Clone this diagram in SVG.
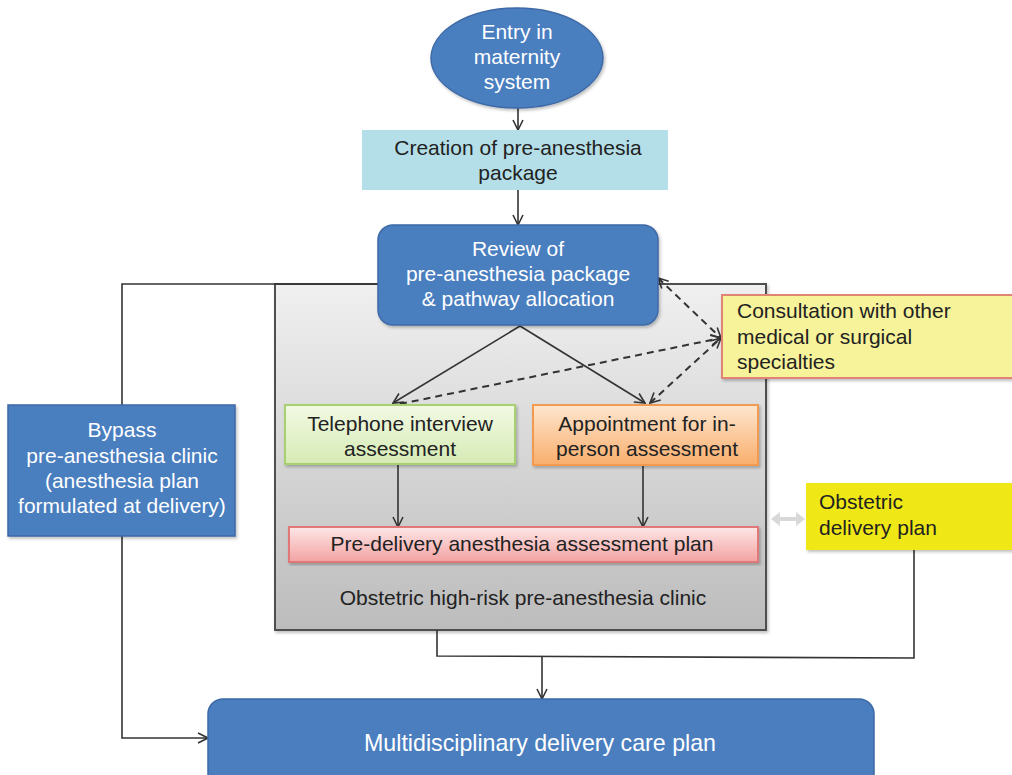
<svg xmlns="http://www.w3.org/2000/svg" width="1012" height="775" viewBox="0 0 1012 775">
<defs>
<style>
text{font-family:"Liberation Sans",Arial,sans-serif;font-size:21px;fill:#222}
.w{fill:#fff}
.c{text-anchor:middle}
.blue{fill:#4a7ebf;stroke:#3d6aa6;stroke-width:1.5}
.ln{fill:none;stroke:#333;stroke-width:1.6}
.dash{fill:none;stroke:#333;stroke-width:2;stroke-dasharray:7 5}
</style>
<marker id="ah" viewBox="0 0 12 12" refX="11" refY="6" markerWidth="12" markerHeight="12" markerUnits="userSpaceOnUse" orient="auto-start-reverse">
<path d="M1,1 L11,6 L1,11" fill="none" stroke="#333" stroke-width="1.6"/>
</marker>
<linearGradient id="gGray" x1="0" y1="0" x2="0" y2="1"><stop offset="0" stop-color="#f0f0f0"/><stop offset="1" stop-color="#bcbcbc"/></linearGradient>
<linearGradient id="gGreen" x1="0" y1="0" x2="0" y2="1"><stop offset="0" stop-color="#f2f9e4"/><stop offset="1" stop-color="#d6ebb4"/></linearGradient>
<linearGradient id="gOrange" x1="0" y1="0" x2="0" y2="1"><stop offset="0" stop-color="#fde6cf"/><stop offset="1" stop-color="#f9ae6c"/></linearGradient>
<linearGradient id="gPink" x1="0" y1="0" x2="0" y2="1"><stop offset="0" stop-color="#fde6e6"/><stop offset="1" stop-color="#f3a2a2"/></linearGradient>
<filter id="sh" x="-5%" y="-5%" width="110%" height="115%"><feDropShadow dx="1.5" dy="2" stdDeviation="1.5" flood-color="#000" flood-opacity="0.25"/></filter>
</defs>
<rect width="1012" height="775" fill="#fff"/>

<g id="clinic">
<rect x="275" y="284" width="491" height="346" fill="url(#gGray)" stroke="#505050" stroke-width="2" filter="url(#sh)"/>
<text class="c" x="523" y="605">Obstetric high-risk pre-anesthesia clinic</text>
</g>

<g id="connectors">
<line class="ln" x1="518" y1="108" x2="518" y2="130" marker-end="url(#ah)"/>
<line class="ln" x1="518" y1="190" x2="518" y2="225" marker-end="url(#ah)"/>
<polyline class="ln" points="378,284 122,284 122,405"/>
<polyline class="ln" points="122,536 122,738 208,738" marker-end="url(#ah)"/>
<line class="ln" x1="520" y1="326" x2="393" y2="403" marker-end="url(#ah)"/>
<line class="ln" x1="520" y1="326" x2="645" y2="403" marker-end="url(#ah)"/>
<line class="dash" x1="658" y1="278" x2="721" y2="338" marker-start="url(#ah)" marker-end="url(#ah)"/>
<line class="dash" x1="400" y1="404" x2="721" y2="338" marker-end="url(#ah)"/>
<line class="dash" x1="650" y1="403" x2="721" y2="338" marker-start="url(#ah)" marker-end="url(#ah)"/>
<line class="ln" x1="398" y1="464" x2="398" y2="527" marker-end="url(#ah)"/>
<line class="ln" x1="643" y1="465" x2="643" y2="527" marker-end="url(#ah)"/>
<polyline class="ln" points="437,630 437,656 914,658 914,550"/>
<line class="ln" x1="542" y1="657" x2="542" y2="699" marker-end="url(#ah)"/>
<polygon points="771,519 780,512 780,517 796,517 796,512 805,519 796,526 796,521 780,521 780,526" fill="#d8d8d8"/>
</g>

<g id="entry">
<ellipse class="blue" cx="517" cy="58" rx="86" ry="50" filter="url(#sh)"/>
<text class="c w" x="517" y="39">Entry in</text>
<text class="c w" x="517" y="64">maternity</text>
<text class="c w" x="517" y="89">system</text>
</g>

<g id="creation">
<rect x="362" y="130" width="306" height="60" fill="#b4dfe8"/>
<text class="c" x="518" y="155">Creation of pre-anesthesia</text>
<text class="c" x="518" y="180">package</text>
</g>

<g id="review">
<rect class="blue" x="378" y="225" width="280" height="100" rx="15" filter="url(#sh)"/>
<text class="c w" x="518" y="256">Review of</text>
<text class="c w" x="518" y="281">pre-anesthesia package</text>
<text class="c w" x="518" y="306">&amp; pathway allocation</text>
</g>

<g id="consultation">
<rect x="722" y="295" width="300" height="83" fill="#f7f39a" stroke="#e08474" stroke-width="2" filter="url(#sh)"/>
<text x="737" y="318">Consultation with other</text>
<text x="737" y="344">medical or surgical</text>
<text x="737" y="369">specialties</text>
</g>

<g id="telephone">
<rect x="285" y="405" width="230" height="59" fill="url(#gGreen)" stroke="#a8d070" stroke-width="2" filter="url(#sh)"/>
<text class="c" x="400" y="431">Telephone interview</text>
<text class="c" x="400" y="456">assessment</text>
</g>

<g id="appointment">
<rect x="533" y="405" width="225" height="60" fill="url(#gOrange)" stroke="#f29a50" stroke-width="2" filter="url(#sh)"/>
<text class="c" x="647" y="431">Appointment for in-</text>
<text class="c" x="647" y="456">person assessment</text>
</g>

<g id="predelivery">
<rect x="289" y="527" width="469" height="35" fill="url(#gPink)" stroke="#e07878" stroke-width="2" filter="url(#sh)"/>
<text class="c" x="522" y="551">Pre-delivery anesthesia assessment plan</text>
</g>

<g id="bypass">
<rect class="blue" x="8" y="405" width="227" height="131" filter="url(#sh)"/>
<text class="c w" x="122" y="437">Bypass</text>
<text class="c w" x="122" y="463">pre-anesthesia clinic</text>
<text class="c w" x="122" y="488">(anesthesia plan</text>
<text class="c w" x="122" y="513">formulated at delivery)</text>
</g>

<g id="obstetric">
<rect x="806" y="483" width="215" height="67" fill="#f0e818" filter="url(#sh)"/>
<text x="819" y="509">Obstetric</text>
<text x="819" y="535">delivery plan</text>
</g>

<g id="multidisciplinary">
<rect class="blue" x="208" y="699" width="666" height="90" rx="15"/>
<text class="c w" x="540" y="751" style="font-size:24px" textLength="352" lengthAdjust="spacingAndGlyphs">Multidisciplinary delivery care plan</text>
</g>
</svg>
